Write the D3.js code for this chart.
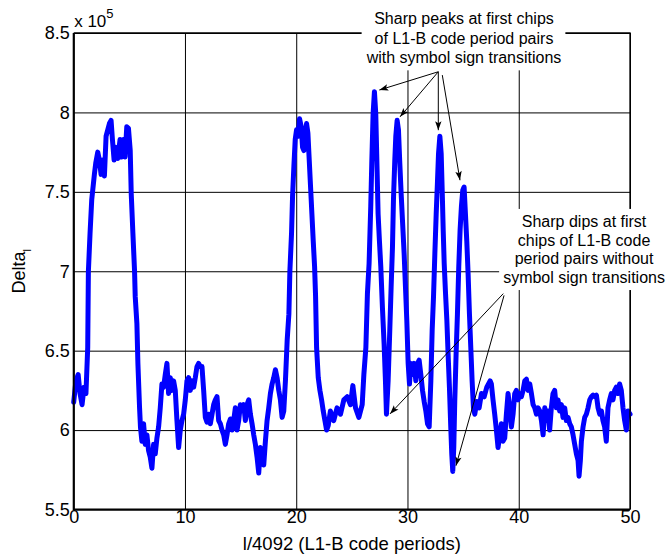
<!DOCTYPE html>
<html lang="en">
<head>
    <meta charset="UTF-8">
    <script src="https://cdn.jsdelivr.net/npm/d3@7"></script>
    <title>Delta_l vs code periods</title>
    <style>
        html, body {
            margin: 0px;
            padding: 0px;
            background-color: #ffffff;
        }
        svg text {
            font-family: "Liberation Sans", Arial, Helvetica, sans-serif;
            fill: #000;
        }
    </style>
</head>
<body>
    <div id="chart"></div>

    <script>
        // l/4092 (code periods)
        let periods = [
            0, 0.2, 0.4, 0.57, 0.75, 0.93, 1.1, 1.26, 1.32, 1.47, 1.62, 1.71, 1.86, 1.98, 2.16, 2.31, 2.46, 2.61, 2.76, 2.91,
            3.06, 3.21, 3.36, 3.48, 3.63, 3.81, 3.96, 4.17, 4.32, 4.47, 4.62, 4.77, 4.92, 5.08, 5.17, 5.32, 5.47, 5.53, 5.68, 5.77,
            5.92, 6.0, 6.13, 6.28, 6.43, 6.58, 6.73, 6.88, 7.03, 7.18, 7.33, 7.48, 7.63, 7.78, 7.93, 8.08, 8.23, 8.38, 8.53, 8.68,
            8.83, 8.98, 9.13, 9.28, 9.43, 9.58, 9.73, 9.88, 10.03, 10.18, 10.33, 10.48, 10.63, 10.78, 10.93, 11.08, 11.23, 11.38, 11.53, 11.68,
            11.83, 11.98, 12.13, 12.28, 12.43, 12.58, 12.73, 12.88, 13.03, 13.18, 13.33, 13.48, 13.63, 13.78, 13.93, 14.08, 14.23, 14.38, 14.53, 14.68,
            14.83, 14.98, 15.13, 15.28, 15.43, 15.58, 15.73, 15.88, 16.03, 16.18, 16.33, 16.48, 16.63, 16.78, 16.93, 17.08, 17.23, 17.38, 17.53, 17.68,
            17.83, 17.98, 18.13, 18.28, 18.43, 18.58, 18.73, 18.88, 19.03, 19.19, 19.34, 19.43, 19.58, 19.67, 19.79, 19.91, 20.03, 20.18, 20.3, 20.45,
            20.57, 20.69, 20.81, 20.93, 21.05, 21.17, 21.29, 21.41, 21.53, 21.65, 21.74, 21.83, 21.98, 22.13, 22.28, 22.43, 22.58, 22.73, 22.88, 23.07,
            23.37, 23.67, 23.98, 24.28, 24.58, 24.88, 25.09, 25.33, 25.63, 25.93, 26.08, 26.26, 26.4, 26.55, 26.7, 26.79, 26.91, 27.03, 27.15, 27.24,
            27.36, 27.48, 27.6, 27.75, 27.9, 28.02, 28.11, 28.26, 28.41, 28.53, 28.65, 28.74, 28.86, 28.95, 29.07, 29.19, 29.31, 29.43, 29.55, 29.7,
            29.82, 29.94, 30.06, 30.18, 30.3, 30.45, 30.6, 30.75, 30.9, 31.05, 31.2, 31.35, 31.5, 31.65, 31.8, 31.95, 32.1, 32.22, 32.34, 32.46,
            32.58, 32.7, 32.79, 32.91, 33.03, 33.12, 33.21, 33.3, 33.42, 33.54, 33.65, 33.77, 33.89, 33.98, 34.07, 34.16, 34.25, 34.37, 34.49, 34.61,
            34.73, 34.85, 34.97, 35.09, 35.21, 35.33, 35.45, 35.57, 35.69, 35.81, 35.93, 36.05, 36.23, 36.44, 36.65, 36.89, 37.13, 37.43, 37.54, 37.69,
            37.84, 37.99, 38.14, 38.29, 38.44, 38.59, 38.74, 38.89, 39.04, 39.19, 39.34, 39.49, 39.64, 39.79, 39.94, 40.09, 40.24, 40.39, 40.54, 40.69,
            40.84, 40.99, 41.14, 41.29, 41.44, 41.59, 41.74, 41.89, 42.04, 42.19, 42.34, 42.49, 42.63, 42.78, 42.93, 43.08, 43.23, 43.38, 43.53, 43.68,
            43.83, 43.98, 44.13, 44.28, 44.43, 44.58, 44.73, 44.88, 45.03, 45.18, 45.33, 45.42, 45.54, 45.63, 45.78, 45.93, 46.08, 46.23, 46.38, 46.53,
            46.68, 46.83, 46.98, 47.13, 47.28, 47.43, 47.57, 47.72, 47.87, 48.02, 48.17, 48.32, 48.47, 48.62, 48.77, 48.92, 49.07, 49.22, 49.37, 49.52,
            49.67, 49.82, 50
        ];

        // Delta_l in units of 1e5
        let delta = [
            6.175, 6.31, 6.35, 6.23, 6.16, 6.27, 6.23, 6.52, 7.0, 7.24, 7.45, 7.51, 7.61, 7.68, 7.75, 7.70, 7.61, 7.70, 7.60, 7.85,
            7.89, 7.93, 7.95, 7.83, 7.70, 7.78, 7.71, 7.83, 7.72, 7.83, 7.72, 7.91, 7.90, 7.76, 7.49, 7.24, 7.0, 6.84, 6.67, 6.42,
            6.14, 6.02, 5.93, 6.04, 5.91, 5.97, 5.87, 5.83, 5.76, 5.91, 5.85, 5.95, 6.02, 6.14, 6.29, 6.27, 6.35, 6.42, 6.23, 6.33,
            6.25, 6.31, 6.25, 6.06, 5.89, 6.0, 6.06, 6.10, 6.19, 6.31, 6.33, 6.25, 6.31, 6.27, 6.33, 6.40, 6.42, 6.40, 6.40, 6.25,
            6.08, 6.05, 6.10, 6.04, 6.10, 6.16, 6.19, 6.21, 6.06, 6.04, 6.0, 5.97, 5.91, 5.97, 6.04, 6.07, 6.0, 6.06, 6.14, 6.0,
            6.06, 6.16, 6.14, 6.16, 6.06, 6.16, 6.19, 6.10, 6.04, 5.97, 5.91, 5.83, 5.73, 5.89, 5.87, 5.78, 5.93, 6.06, 6.14, 6.23,
            6.29, 6.33, 6.38, 6.33, 6.25, 6.19, 6.08, 6.12, 6.31, 6.57, 6.73, 7.0, 7.24, 7.47, 7.66, 7.83, 7.89, 7.85, 7.96, 7.91,
            7.78, 7.76, 7.87, 7.93, 7.87, 7.70, 7.53, 7.36, 7.19, 7.03, 6.84, 6.52, 6.33, 6.25, 6.19, 6.12, 6.06, 6.0, 6.03, 6.12,
            6.06, 6.14, 6.10, 6.19, 6.21, 6.16, 6.28, 6.14, 6.08, 6.16, 6.35, 6.52, 6.86, 7.05, 7.41, 7.68, 7.99, 8.13, 7.99, 7.72,
            7.36, 7.19, 7.03, 6.77, 6.54, 6.31, 6.10, 6.31, 6.63, 6.90, 7.15, 7.45, 7.70, 7.85, 7.95, 7.89, 7.68, 7.49, 7.32, 7.11,
            6.90, 6.69, 6.42, 6.29, 6.42, 6.35, 6.42, 6.31, 6.42, 6.44, 6.35, 6.25, 6.18, 6.12, 6.04, 6.02, 6.31, 6.63, 6.84, 7.11,
            7.36, 7.57, 7.74, 7.85, 7.74, 7.51, 7.26, 7.05, 6.86, 6.69, 6.48, 6.27, 6.02, 5.85, 5.74, 5.89, 6.18, 6.48, 6.73, 7.03,
            7.26, 7.41, 7.51, 7.53, 7.36, 7.19, 6.98, 6.73, 6.52, 6.31, 6.14, 6.10, 6.18, 6.14, 6.23, 6.21, 6.27, 6.31, 6.29, 6.19,
            6.10, 6.0, 5.89, 5.97, 6.04, 5.93, 5.95, 6.10, 6.23, 6.14, 6.02, 6.10, 6.23, 6.25, 6.19, 6.23, 6.21, 6.25, 6.31, 6.32,
            6.25, 6.29, 6.23, 6.16, 6.14, 6.10, 6.14, 6.12, 6.06, 5.97, 6.14, 6.06, 6.12, 6.0, 6.14, 6.23, 6.25, 6.14, 6.19, 6.12,
            6.16, 6.08, 6.14, 6.06, 6.08, 6.04, 6.02, 5.97, 5.91, 5.85, 5.81, 5.71, 5.81, 5.93, 6.02, 6.08, 6.10, 6.14, 6.19, 6.21,
            6.22, 6.21, 6.22, 6.14, 6.10, 6.12, 6.06, 6.02, 5.93, 6.14, 6.19, 6.23, 6.19, 6.25, 6.27, 6.23, 6.29, 6.25, 6.14, 6.06,
            6.0, 6.12, 6.10
        ];

        let xTicks = [0, 10, 20, 30, 40, 50];
        let yTicks = [5.5, 6, 6.5, 7, 7.5, 8, 8.5];

        let peakText = ['Sharp peaks at first chips', 'of L1-B code period pairs', 'with symbol sign transitions'];
        let dipText = ['Sharp dips at first', 'chips of L1-B code', 'period pairs without', 'symbol sign transitions'];

        // arrow start/end in data units
        let peakArrows = [
            [[32.77, 8.256], [27.47, 8.141]],
            [[32.77, 8.256], [29.33, 7.972]],
            [[32.77, 8.256], [32.77, 7.888]],
            [[33.13, 8.235], [34.72, 7.573]]
        ];
        let dipArrows = [
            [[38.61, 6.859], [28.43, 6.102]],
            [[38.68, 6.848], [34.36, 5.776]]
        ];

        let width = 666;
        let height = 559;

        let margin = {
            top: 33,
            bottom: 49.5,
            left: 73.7,
            right: 36
        }

        let svg = d3.select('#chart').append('svg').attr('width', width).attr('height', height);

        let x = d3.scaleLinear().domain([0, 50]).range([margin.left, width - margin.right]);
        let y = d3.scaleLinear().domain([5.5, 8.5]).range([height - margin.bottom, margin.top]);

        // arrow head
        svg.append('defs').append('marker')
            .attr('id', 'head')
            .attr('viewBox', '-10 -5 10 10')
            .attr('refX', 0).attr('refY', 0)
            .attr('markerWidth', 10).attr('markerHeight', 10)
            .attr('markerUnits', 'userSpaceOnUse')
            .attr('orient', 'auto')
            .append('path')
            .attr('d', 'M-9,-3.2L0,0L-9,3.2L-7,0Z')
            .attr('fill', '#000');

        // grid
        svg.append('g')
            .attr('transform', `translate(0,${y(5.5)})`)
            .call(d3.axisBottom(x).tickValues(xTicks).tickSize(-(y(5.5) - y(8.5))).tickFormat(''))
            .call(g => g.select('.domain').remove())
            .selectAll('line').attr('stroke', '#000').attr('stroke-width', 1);
        svg.append('g')
            .attr('transform', `translate(${x(0)},0)`)
            .call(d3.axisLeft(y).tickValues(yTicks).tickSize(-(x(50) - x(0))).tickFormat(''))
            .call(g => g.select('.domain').remove())
            .selectAll('line').attr('stroke', '#000').attr('stroke-width', 1);

        // curve
        let line = d3.line()
            .x((d, i) => x(periods[i]))
            .y(d => y(d));

        svg.append('path')
            .datum(delta)
            .attr('d', line)
            .attr('fill', 'none')
            .attr('stroke', '#0000ff')
            .attr('stroke-width', 5)
            .attr('stroke-linejoin', 'round')
            .attr('stroke-linecap', 'round');

        // box
        svg.append('path')
            .attr('d', `M${x(0)},${y(8.5)}H${x(50)}V${y(5.5)}`)
            .attr('fill', 'none').attr('stroke', '#000').attr('stroke-width', 1.3);
        svg.append('path')
            .attr('d', `M${x(0)},${y(8.5)}V${y(5.5)}H${x(50)}`)
            .attr('fill', 'none').attr('stroke', '#000').attr('stroke-width', 2);

        // tick labels
        svg.append('g')
            .attr('transform', `translate(0,${y(5.5)})`)
            .call(d3.axisBottom(x).tickValues(xTicks).tickSize(0).tickPadding(1).tickFormat(d3.format('d')))
            .call(g => g.select('.domain').remove())
            .selectAll('text').attr('font-size', 18).attr('font-family', null);
        svg.append('g')
            .attr('transform', `translate(${x(0)},0)`)
            .call(d3.axisLeft(y).tickValues(yTicks).tickSize(0).tickPadding(4).tickFormat(d3.format('')))
            .call(g => g.select('.domain').remove())
            .selectAll('text').attr('font-size', 18).attr('font-family', null);

        // exponent
        let expo = svg.append('text')
            .attr('x', x(0) + 0.5)
            .attr('y', 27)
            .attr('font-size', 17);
        expo.append('tspan').text('x 10');
        expo.append('tspan').attr('font-size', 13).attr('dy', -9).text('5');

        // axis labels
        svg.append('text')
            .attr('x', (x(0) + x(50)) / 2)
            .attr('y', 550)
            .attr('text-anchor', 'middle')
            .attr('font-size', 18.5)
            .text('l/4092 (L1-B code periods)');

        let ylab = svg.append('text')
            .attr('transform', `translate(25,${(y(8.5) + y(5.5)) / 2})rotate(-90)`)
            .attr('text-anchor', 'middle')
            .attr('font-size', 18);
        ylab.append('tspan').text('Delta');
        ylab.append('tspan').attr('font-size', 11).attr('dy', 6).text('l');

        // annotations
        function note(lines, cx, top, gap) {
            let g = svg.append('g');
            let bg = g.append('rect').attr('fill', '#fff');
            let t = g.append('text')
                .attr('text-anchor', 'middle')
                .attr('font-size', 16);
            t.selectAll('tspan')
                .data(lines)
                .join('tspan')
                .attr('x', cx)
                .attr('y', (d, i) => top + i * gap)
                .text(d => d);
            let b = t.node().getBBox();
            bg.attr('x', b.x - 4).attr('y', b.y - 4)
                .attr('width', b.width + 8).attr('height', b.height + 8);
        }

        note(peakText, x(35.08), y(8.557), 19.7);
        note(dipText, x(45.87), y(7.279), 18.7);

        svg.append('g')
            .selectAll('line')
            .data(peakArrows.concat(dipArrows))
            .join('line')
            .attr('x1', d => x(d[0][0]))
            .attr('y1', d => y(d[0][1]))
            .attr('x2', d => x(d[1][0]))
            .attr('y2', d => y(d[1][1]))
            .attr('stroke', '#000')
            .attr('stroke-width', 1)
            .attr('marker-end', 'url(#head)');
    </script>
</body>
</html>
